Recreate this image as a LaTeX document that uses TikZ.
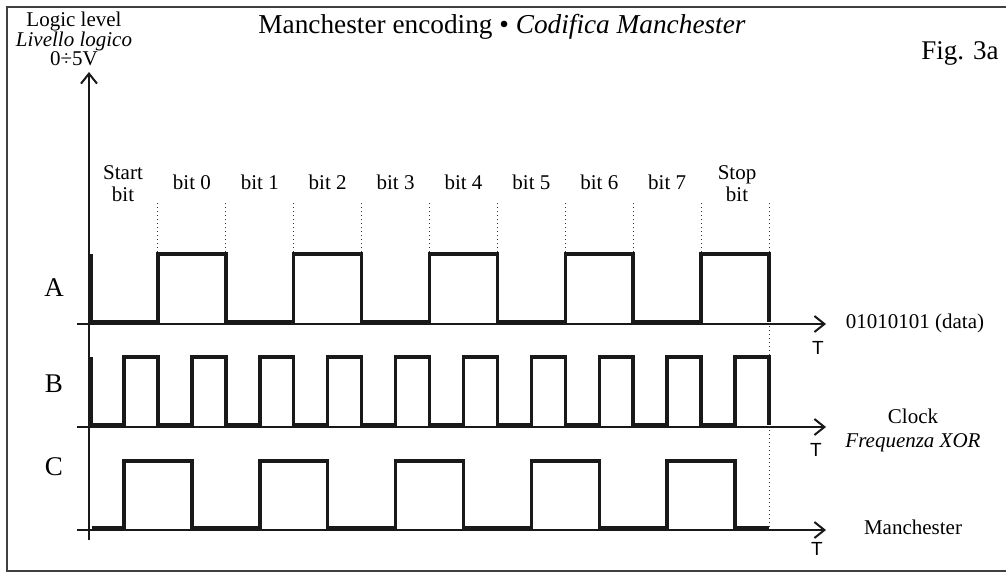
\documentclass[tikz,border=0pt]{standalone}
\usepackage{fontspec}
\setmainfont{Liberation Serif}
\newfontfamily\sansf{Liberation Sans}
\usetikzlibrary{arrows.meta}
\begin{document}
\begin{tikzpicture}[x=1pt,y=-1pt,
  wave/.style={line width=3.5pt, line join=miter, black!90},
  axisline/.style={line width=2pt, black!90},
  axisarrow/.style={axisline, -{Straight Barb[length=10pt,width=16pt]}},
  dotline/.style={line width=1pt, dash pattern=on 1pt off 3pt, black!80},
  lbl/.style={font=\fontsize{21}{24}\selectfont, align=center, inner sep=0pt},
  big/.style={font=\fontsize{27}{30}\selectfont, inner sep=0pt},
  tlbl/.style={font=\sansf\fontsize{19}{22}\selectfont, inner sep=0pt}]
\useasboundingbox (0,0) rectangle (1006,579);
\draw[line width=2pt, black!75] (1010,7) -- (7,7) -- (7,571) -- (1010,571);
% titles
\node[big, font=\fontsize{27.3}{30}\selectfont] (title) at (502,27) {Manchester encoding • \textit{Codifica Manchester}};
\node[big] (fig) at (960,53) {Fig. 3a};
\node[lbl, font=\fontsize{21}{18}\selectfont] (ylab) at (74,39) {Logic level\\\textit{Livello logico}\\0÷5V};
% axes
\coordinate (vb) at (89,540);
\coordinate (vt) at (89,72);
\draw[axisarrow] (vb) -- (vt);
\coordinate (aS) at (77,324); \coordinate (aE) at (826,324);
\coordinate (bS) at (77,427); \coordinate (bE) at (826,427);
\coordinate (cS) at (77,530); \coordinate (cE) at (826,530);
\draw[axisarrow] (aS) -- (aE);
\draw[axisarrow] (bS) -- (bE);
\draw[axisarrow] (cS) -- (cE);
% dotted bit boundaries
\foreach \x in {157.9,225.8,293.7,361.6,429.5,497.4,565.3,633.2,701.1,769}
  \draw[dotline] (\x,203) -- (\x,252);
\draw[dotline] (769,326) -- (769,528);
% waveform A
\draw[wave] (91.5,254) -- (91.5,322) -- (157.9,322) -- (157.9,254) -- (225.8,254) -- (225.8,322) -- (293.7,322) -- (293.7,254) -- (361.6,254) -- (361.6,322) -- (429.5,322) -- (429.5,254) -- (497.4,254) -- (497.4,322) -- (565.3,322) -- (565.3,254) -- (633.2,254) -- (633.2,322) -- (701.1,322) -- (701.1,254) -- (769,254) -- (769,322);
% waveform B
\draw[wave] (91.5,357) -- (91.5,425) -- (124,425) -- (124,357) -- (157.9,357) -- (157.9,425) -- (191.9,425) -- (191.9,357) -- (225.8,357) -- (225.8,425) -- (259.8,425) -- (259.8,357) -- (293.7,357) -- (293.7,425) -- (327.7,425) -- (327.7,357) -- (361.6,357) -- (361.6,425) -- (395.6,425) -- (395.6,357) -- (429.5,357) -- (429.5,425) -- (463.5,425) -- (463.5,357) -- (497.4,357) -- (497.4,425) -- (531.4,425) -- (531.4,357) -- (565.3,357) -- (565.3,425) -- (599.3,425) -- (599.3,357) -- (633.2,357) -- (633.2,425) -- (667.2,425) -- (667.2,357) -- (701.1,357) -- (701.1,425) -- (735.1,425) -- (735.1,357) -- (769,357) -- (769,425);
% waveform C
\draw[wave] (91.5,528) -- (124,528) -- (124,461) -- (191.9,461) -- (191.9,528) -- (259.8,528) -- (259.8,461) -- (327.7,461) -- (327.7,528) -- (395.6,528) -- (395.6,461) -- (463.5,461) -- (463.5,528) -- (531.4,528) -- (531.4,461) -- (599.3,461) -- (599.3,528) -- (667.2,528) -- (667.2,461) -- (735.1,461) -- (735.1,528) -- (769,528);
% bit labels
\node[lbl, font=\fontsize{21}{22}\selectfont] (lstart) at (123,184) {Start\\bit};
\node[lbl] (l0) at (191.9,182) {bit 0};
\node[lbl] (l1) at (259.8,182) {bit 1};
\node[lbl] (l2) at (327.7,182) {bit 2};
\node[lbl] (l3) at (395.6,182) {bit 3};
\node[lbl] (l4) at (463.5,182) {bit 4};
\node[lbl] (l5) at (531.4,182) {bit 5};
\node[lbl] (l6) at (599.3,182) {bit 6};
\node[lbl] (l7) at (667.2,182) {bit 7};
\node[lbl, font=\fontsize{21}{22}\selectfont] (lstop) at (737,184) {Stop\\bit};
% row labels
\node[big] (rA) at (54,288) {A};
\node[big] (rB) at (54,384) {B};
\node[big] (rC) at (54,467) {C};
% T labels
\node[tlbl] (tA) at (818,348) {T};
\node[tlbl] (tB) at (816,450) {T};
\node[tlbl] (tC) at (817,549) {T};
% right labels
\node[lbl] (dA) at (915,323) {01010101 (data)};
\node[lbl] (dB) at (913,430) {Clock\\\textit{Frequenza XOR}};
\node[lbl] (dC) at (913,527) {Manchester};
\end{tikzpicture}
\end{document}
